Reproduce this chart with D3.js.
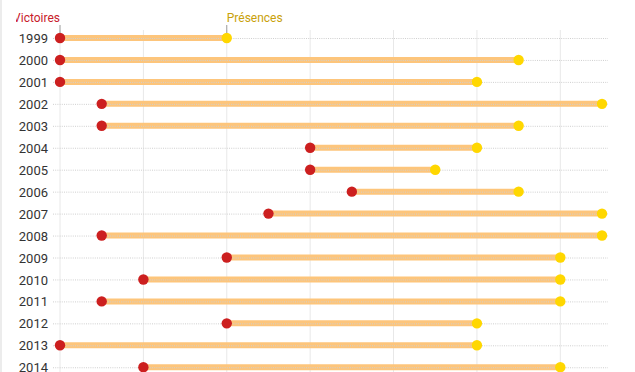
<!DOCTYPE html>
<html>
<head>
<meta charset="utf-8">
<script src="https://cdn.jsdelivr.net/npm/d3@7"></script>
<style>
    body { margin: 0; background: #fff; font-family: Roboto, sans-serif; }
    #chart { position: absolute; left: 0; top: 0; width: 635px; height: 372px; overflow: hidden; }
    #edge { position: absolute; left: 0; top: 0; width: 2px; height: 372px; background: #ececec; }
</style>
</head>
<body>
<div id="chart"></div>
<div id="edge"></div>
<script>
// data
let years = ["1999", "2000", "2001", "2002", "2003", "2004", "2005", "2006", "2007", "2008", "2009", "2010", "2011", "2012", "2013", "2014"];
let victoires = [0, 0, 0, 1, 1, 6, 6, 7, 5, 1, 4, 2, 1, 4, 0, 2];
let presences = [4, 11, 10, 13, 11, 10, 9, 11, 13, 13, 12, 12, 12, 10, 10, 12];
let xTicks = [0, 2, 4, 6, 8, 10, 12];

let rows = years.map((y, i) => ({year: y, v: victoires[i], p: presences[i]}));

let margin = {top: 38, left: 60, right: 33};
let width = 635;
let height = 372;

let svg = d3.select("#chart").append("svg")
    .attr("width", width)
    .attr("height", height);

// clip like the reference (left text is cut)
svg.append("defs").append("clipPath")
    .attr("id", "clip")
    .append("rect")
    .attr("x", 16).attr("y", 0)
    .attr("width", width - 16).attr("height", height);

let g = svg.append("g").attr("clip-path", "url(#clip)");

let x = d3.scaleLinear()
    .domain([0, 13])
    .range([margin.left, 602]);

let y = d3.scalePoint()
    .domain(years)
    .range([margin.top, margin.top + 21.95 * (years.length - 1)]);

// vertical gridlines
g.append("g")
    .selectAll("line")
    .data(xTicks)
    .join("line")
    .attr("x1", d => x(d)).attr("x2", d => x(d))
    .attr("y1", 30).attr("y2", height)
    .attr("stroke", "#e8e8e8")
    .attr("stroke-width", 1);

// y axis labels
let yAxis = d3.axisLeft(y).tickSize(0).tickPadding(0);
g.append("g")
    .attr("transform", "translate(48,0)")
    .call(yAxis)
    .call(a => a.select(".domain").remove())
    .selectAll("text")
    .attr("font-family", "Roboto, sans-serif")
    .attr("font-size", 13)
    .attr("fill", "#333")
    .attr("dy", "0.35em");

// bars
g.append("g")
    .selectAll("line")
    .data(rows)
    .join("line")
    .attr("x1", d => x(d.v)).attr("x2", d => x(d.p))
    .attr("y1", d => y(d.year)).attr("y2", d => y(d.year))
    .attr("stroke", "#fdc57b")
    .attr("stroke-width", 6);

// horizontal dotted gridlines (on top of bars)
g.append("g")
    .selectAll("line")
    .data(years)
    .join("line")
    .attr("x1", 53).attr("x2", 608)
    .attr("y1", d => y(d) + 0.5).attr("y2", d => y(d) + 0.5)
    .attr("stroke", "#cfcfcf")
    .attr("stroke-width", 1)
    .attr("stroke-dasharray", "1,1.2");

// dots
g.append("g")
    .selectAll("circle")
    .data(rows)
    .join("circle")
    .attr("cx", d => x(d.p))
    .attr("cy", d => y(d.year))
    .attr("r", 5.2)
    .attr("fill", "#ffd700");

g.append("g")
    .selectAll("circle")
    .data(rows)
    .join("circle")
    .attr("cx", d => x(d.v))
    .attr("cy", d => y(d.year))
    .attr("r", 5.2)
    .attr("fill", "#cc1f1f");

// annotations
let first = rows[0];
let notes = [
    {label: "Victoires", value: first.v, anchor: "end", color: "#c8202a"},
    {label: "Présences", value: first.p, anchor: "start", color: "#c9a10a"}
];

let ann = g.append("g").selectAll("g")
    .data(notes)
    .join("g");

ann.append("line")
    .attr("x1", d => x(d.value)).attr("x2", d => x(d.value))
    .attr("y1", 25).attr("y2", 33)
    .attr("stroke", "#999")
    .attr("stroke-width", 1);

ann.append("text")
    .attr("x", d => x(d.value))
    .attr("y", 22)
    .attr("text-anchor", d => d.anchor)
    .attr("font-family", "Roboto, sans-serif")
    .attr("font-size", 12)
    .attr("fill", d => d.color)
    .text(d => d.label);
</script>
</body>
</html>
